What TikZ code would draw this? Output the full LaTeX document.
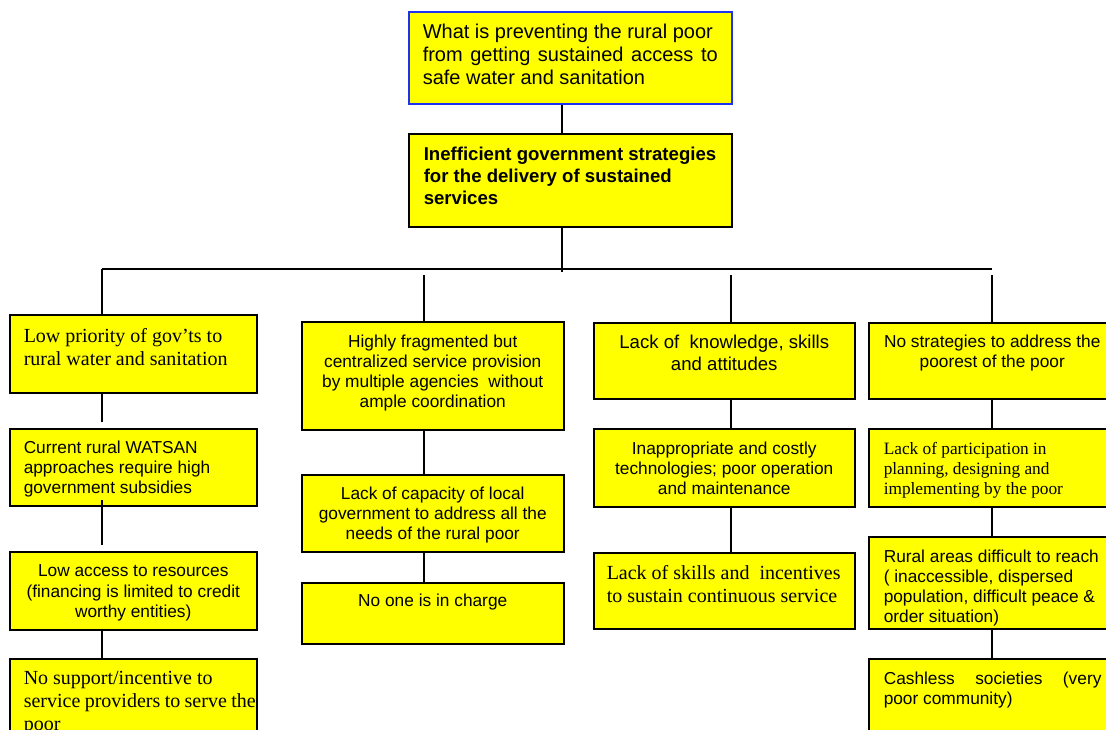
\documentclass[tikz,border=0pt]{standalone}
\usepackage{fontspec}
\setmainfont{Liberation Serif}
\setsansfont{Liberation Sans}
\definecolor{cellyellow}{RGB}{255,255,0}
\definecolor{edgeblue}{RGB}{30,50,240}

% #1 box width, #2 box height, #3 left offset, #4 text width, #5 top pad, #6 text
\newcommand{\boxbody}[6]{%
  \hbox to #1pt{\hspace*{#3pt}\parbox[c][#2pt][t]{#4pt}{\vspace*{#5pt}#6}\hss}}
\newcommand{\arialtext}{\sffamily\fontsize{17.3}{20}\selectfont}
\newcommand{\timestext}{\rmfamily\fontsize{20}{23}\selectfont}
\newcommand{\timessmall}{\rmfamily\fontsize{17.3}{20}\selectfont}

\tikzset{
  cellbox/.style={draw=black, line width=1.5pt, fill=cellyellow, inner sep=0pt, anchor=north west},
  link/.style={draw=black, line width=1.5pt}
}

\begin{document}
\begin{tikzpicture}[x=1pt,y=-1pt]
\useasboundingbox (0,0) rectangle (1106,729);
\clip (0,0) rectangle (1106,729);

% question and main cause
\node[cellbox, draw=edgeblue] (T) at (408,11) {\boxbody{323}{92}{14}{308}{12}{\raggedright
  \sffamily\fontsize{20}{23}\selectfont
  What is preventing the rural poor\\
  \makebox[295pt][s]{from getting sustained access to}\\
  safe water and sanitation}};
\node[cellbox] (S) at (408,133) {\boxbody{323}{93}{15}{306}{13.7}{\raggedright
  \sffamily\bfseries\fontsize{18.6}{22}\selectfont
  Inefficient government strategies\\
  for the delivery of sustained\\
  services}};

% column 1
\node[cellbox] (A1) at (9,314) {\boxbody{247}{78}{14}{232}{14}{\raggedright\timestext
  Low priority of gov’ts to\\ rural water and sanitation}};
\node[cellbox] (A2) at (9,428) {\boxbody{247}{77}{14}{232}{12}{\raggedright\arialtext
  Current rural WATSAN\\ approaches require high\\ government subsidies}};
\node[cellbox] (A3) at (9,551) {\boxbody{247}{78}{2}{243}{13}{\centering
  \sffamily\fontsize{17.3}{20.5}\selectfont
  Low access to resources\\ (financing is limited to credit\\ worthy entities)}};
\node[cellbox] (A4) at (9,658) {\boxbody{247}{85}{14}{232}{12}{\raggedright\timestext
  No support/incentive to\\ service providers to serve the\\ poor}};

% column 2
\node[cellbox] (B1) at (301,321) {\boxbody{262}{108}{2}{258}{13}{\centering\arialtext
  Highly fragmented but\\ centralized service provision\\ by multiple agencies\ \ without\\ ample coordination}};
\node[cellbox] (B2) at (301,474) {\boxbody{262}{77}{2}{258}{12.7}{\centering\arialtext
  Lack of capacity of local\\ government to address all the\\ needs of the rural poor}};
\node[cellbox] (B3) at (301,582) {\boxbody{262}{61}{2}{258}{11.3}{\centering\arialtext
  No one is in charge}};

% column 3
\node[cellbox] (C1) at (593,322) {\boxbody{261}{76}{2}{257}{12.3}{\centering
  \sffamily\fontsize{18.6}{21.7}\selectfont
  Lack of\ \ knowledge, skills\\ and attitudes}};
\node[cellbox] (C2) at (593,428) {\boxbody{261}{78}{2}{257}{13.7}{\centering\arialtext
  Inappropriate and costly\\ technologies; poor operation\\ and maintenance}};
\node[cellbox] (C3) at (593,552) {\boxbody{261}{76}{13}{246}{13}{\raggedright\timestext
  Lack of skills and\ \ incentives\\ to sustain continuous service}};

% column 4
\node[cellbox] (D1) at (868,322) {\boxbody{247}{76}{2}{243}{12.3}{\centering\arialtext
  No strategies to address the\\ poorest of the poor}};
\node[cellbox] (D2) at (868,428) {\boxbody{247}{78}{15}{231}{13.7}{\raggedright\timessmall
  Lack of participation in\\ planning, designing and\\ implementing by the poor}};
\node[cellbox] (D3) at (868,536) {\boxbody{247}{92}{15}{231}{13.3}{\raggedright\arialtext
  Rural areas difficult to reach\\ ( inaccessible, dispersed\\ population, difficult peace \&\\ order situation)}};
\node[cellbox] (D4) at (868,658) {\boxbody{247}{85}{15}{231}{13}{\raggedright\arialtext
  \makebox[217.7pt][s]{Cashless societies (very}\\ poor community)}};

% branching points
\coordinate (hub) at (562,272);
\coordinate (barL) at (102,269);
\coordinate (barR) at (992,269);
\coordinate (c2) at (424,275);
\coordinate (c3) at (731,275);
\coordinate (c4) at (992,275);

\draw[link] (T.south -| hub) -- (S.north -| hub);
\draw[link] (S.south -| hub) -- (hub);
\draw[link] (barL) -- (barR);

\draw[link] (barL) -- (A1.north -| barL);
\draw[link] (c2) -- (B1.north -| c2);
\draw[link] (c3) -- (C1.north -| c3);
\draw[link] (c4) -- (D1.north -| c4);

\draw[link] (A1.south -| barL) -- ([yshift=6pt]A2.north -| barL);
\draw[link] ([yshift=7pt]A2.south -| barL) -- ([yshift=6pt]A3.north -| barL);
\draw[link] (A3.south -| barL) -- (A4.north -| barL);

\draw[link] (B1.south -| c2) -- (B2.north -| c2);
\draw[link] (B2.south -| c2) -- (B3.north -| c2);

\draw[link] (C1.south -| c3) -- (C2.north -| c3);
\draw[link] (C2.south -| c3) -- (C3.north -| c3);

\draw[link] (D1.south -| c4) -- (D2.north -| c4);
\draw[link] (D2.south -| c4) -- (D3.north -| c4);
\draw[link] (D3.south -| c4) -- (D4.north -| c4);
\end{tikzpicture}
\end{document}
